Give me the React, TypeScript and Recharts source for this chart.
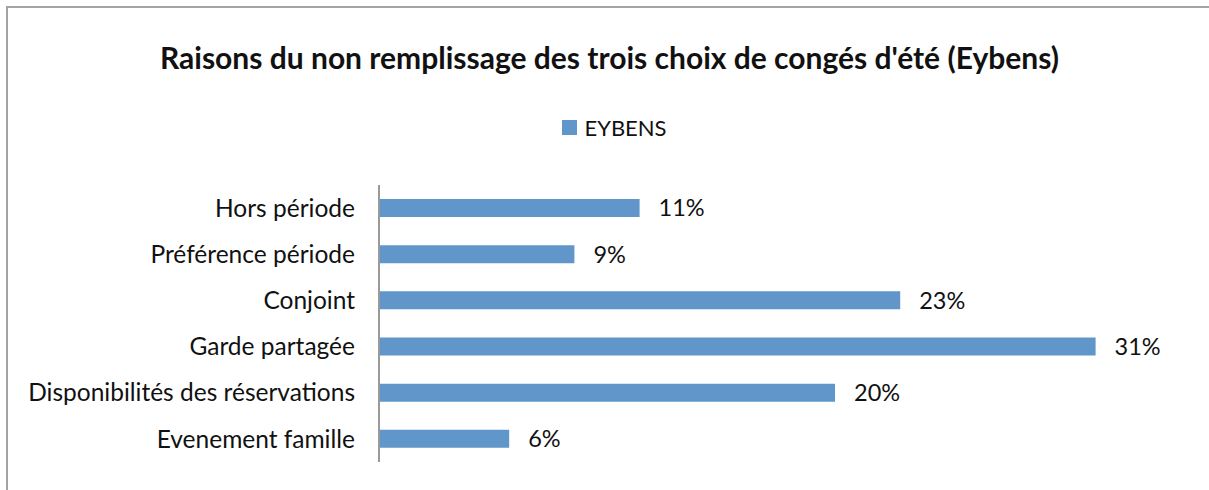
import { BarChart, Bar, XAxis, YAxis, Legend, LabelList } from "recharts";

const categories = [
  "Hors période",
  "Préférence période",
  "Conjoint",
  "Garde partagée",
  "Disponibilités des réservations",
  "Evenement famille",
];
const eybens = [11.43, 8.57, 22.86, 31.43, 20.0, 5.71];
const xDomain = [0, 35];

const FONT = "Lato, 'Open Sans', sans-serif";
const BLUE = "#6196ca";

const data = categories.map((name, i) => ({ name, value: eybens[i] }));

function LegendBox() {
  return (
    <div
      style={{
        height: 30,
        display: "flex",
        alignItems: "center",
        justifyContent: "center",
        fontFamily: FONT,
        fontSize: 22,
        color: "#111",
        paddingLeft: 20,
      }}
    >
      <span style={{ width: 15, height: 15, background: BLUE, marginRight: 7, display: "inline-block" }} />
      EYBENS
    </div>
  );
}

export default function App() {
  return (
    <div
      style={{
        position: "fixed",
        left: 0,
        top: 0,
        width: 1209,
        height: 490,
        background: "#fff",
        overflow: "hidden",
      }}
    >
      <div
        style={{
          position: "absolute",
          left: 6,
          top: 6,
          width: 1300,
          height: 600,
          borderTop: "2px solid #a3a3a3",
          borderLeft: "2px solid #a3a3a3",
        }}
      />
      <div
        style={{
          position: "absolute",
          left: 10,
          top: 39,
          width: 1199,
          textAlign: "center",
          fontFamily: FONT,
          fontWeight: 700,
          fontSize: 30,
          color: "#111",
          whiteSpace: "nowrap",
        }}
      >
        Raisons du non remplissage des trois choix de congés d'été (Eybens)
      </div>
      <BarChart
        width={1209}
        height={490}
        data={data}
        layout="vertical"
        margin={{ top: 155, right: 32, bottom: 28, left: 0 }}
        style={{ position: "absolute", left: 0, top: 0 }}
      >
        <XAxis type="number" domain={xDomain} hide />
        <YAxis
          type="category"
          dataKey="name"
          width={379}
          tickLine={false}
          axisLine={{ stroke: "#9a9a9a", strokeWidth: 2 }}
          tickMargin={18}
          tick={{ fill: "#111", fontSize: 24.5, fontFamily: FONT }}
        />
        <Legend
          verticalAlign="top"
          align="center"
          wrapperStyle={{ top: 112, left: 0, width: 1209 }}
          content={() => <LegendBox />}
        />
        <Bar dataKey="value" name="EYBENS" fill={BLUE} barSize={18} isAnimationActive={false}>
          <LabelList
            dataKey="value"
            position="right"
            offset={19}
            formatter={(v: any) => `${Math.round(Number(v))}%`}
            style={{ fill: "#111", fontSize: 23.5, fontFamily: FONT }}
          />
        </Bar>
      </BarChart>
    </div>
  );
}
